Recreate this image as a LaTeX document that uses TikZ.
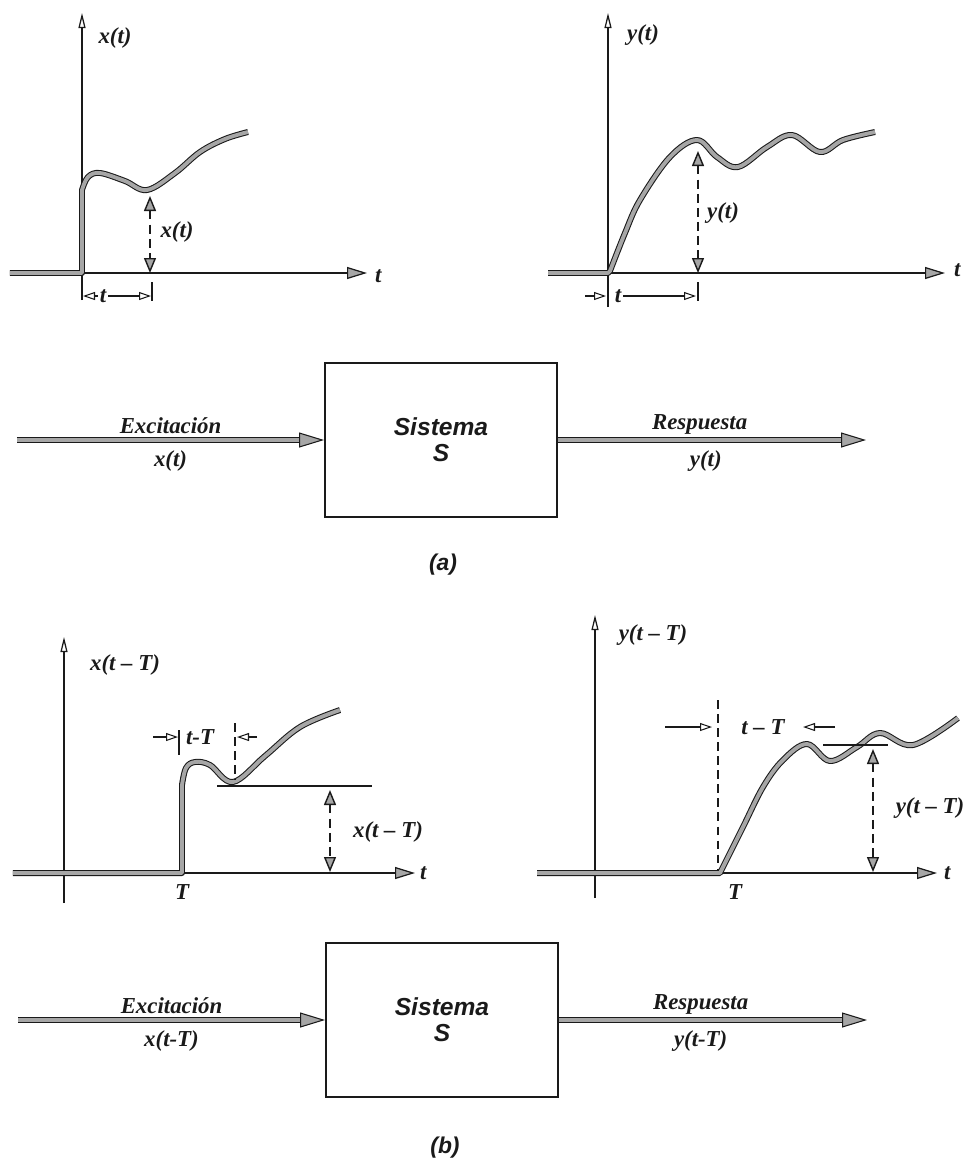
\documentclass[tikz,border=0pt]{standalone}
\usepackage{fontspec}
\setmainfont{Liberation Serif}
\setsansfont{Liberation Sans}
\usepackage{tikz}
\usetikzlibrary{arrows.meta,positioning,calc}
\definecolor{trazo}{HTML}{1A1A1A}
\definecolor{relleno}{HTML}{A6A6A6}
\tikzset{
  every node/.style = {font=\fontsize{13}{15}\selectfont\bfseries\itshape, text=trazo},
  eje/.style        = {draw=trazo, line width=0.7pt,
                       -{Triangle[length=4mm,width=2.4mm,fill=relleno]}},
  ejevert/.style    = {draw=trazo, line width=0.7pt,
                       -{Triangle[length=3mm,width=1.4mm,open]}},
  senal/.style      = {draw=trazo, line width=0.6pt, double=relleno,
                       double distance=2.2pt, line join=round},
  guia/.style       = {draw=trazo, line width=0.8pt, dash pattern=on 5pt off 3pt},
  doblecota/.style  = {guia, {Triangle[length=3mm,width=2.4mm,fill=relleno]}-{Triangle[length=3mm,width=2.4mm,fill=relleno]}},
  cota/.style       = {draw=trazo, line width=0.6pt,
                       -{Triangle[length=2.4mm,width=1.6mm,open]}},
  marca/.style      = {draw=trazo, line width=0.6pt},
  bloque/.style     = {draw=trazo, line width=1.1pt, minimum width=46.4mm,
                       minimum height=30.8mm, align=center, inner sep=0pt,
                       font=\fontsize{14}{16}\selectfont\sffamily\bfseries\itshape},
  flecha/.style     = {senal, -{Triangle[length=5mm,width=3mm,fill=relleno]}},
  rot/.style        = {inner sep=1pt},
  panel/.style      = {font=\fontsize{13}{15}\selectfont\sffamily\bfseries\itshape},
}

\begin{document}
\begin{tikzpicture}

\useasboundingbox (0,0) rectangle (19.58,-23.20);

% =============================================================================
% (a) Excitacion x(t)
% =============================================================================
\coordinate (oa)    at (1.64,-5.46);
\coordinate (xaini) at (0.20,-5.46);
\coordinate (xafin) at (7.34,-5.46);
\coordinate (yaini) at (1.64,-6.00);
\coordinate (yafin) at (1.64,-0.26);
\draw[ejevert] (yaini) -- (yafin);
\draw[eje] (oa) -- (xafin);
\node[rot, anchor=west] (ta) at (7.46,-5.52) {t};
\node[rot] (xa) at (2.30,-0.76) {x(t)};

\draw[senal] (xaini) -- (oa) -- plot[smooth, tension=0.6] coordinates
  {(1.64,-3.80) (1.76,-3.54) (2.00,-3.46) (2.50,-3.62) (2.94,-3.80)
   (3.50,-3.46) (4.00,-3.04) (4.50,-2.78) (4.96,-2.64)};

\coordinate (pa) at (3.00,-3.92);
\coordinate (qa) at (3.00,-5.46);
\draw[doblecota] (pa) -- (qa);
\node[rot] (xamed) at (3.54,-4.64) {x(t)};

\node[rot] (ca) at (2.06,-5.92) {t};
\coordinate (cai) at (1.66,-5.92);
\coordinate (caf) at (3.02,-5.92);
\draw[cota] (ca) -- (cai);
\draw[cota] (ca) -- (caf);
\coordinate (mai) at (3.04,-5.64);
\coordinate (maf) at (3.04,-6.02);
\draw[marca] (mai) -- (maf);

% =============================================================================
% (a) Respuesta y(t)
% =============================================================================
\coordinate (ob)    at (12.16,-5.46);
\coordinate (xbini) at (10.96,-5.46);
\coordinate (xbfin) at (18.90,-5.46);
\coordinate (ybini) at (12.16,-6.14);
\coordinate (ybfin) at (12.16,-0.26);
\draw[ejevert] (ybini) -- (ybfin);
\draw[eje] (ob) -- (xbfin);
\node[rot, anchor=west] (tb) at (19.04,-5.40) {t};
\node[rot] (yb) at (12.86,-0.70) {y(t)};

\draw[senal] (xbini) -- (ob) -- plot[smooth, tension=0.6] coordinates
  {(12.20,-5.42) (12.50,-4.66) (12.80,-4.00) (13.40,-3.14) (13.94,-2.80)
   (14.34,-3.14) (14.76,-3.34) (15.34,-2.94) (15.84,-2.70) (16.40,-3.04)
   (16.86,-2.80) (17.50,-2.64)};

\coordinate (pb) at (13.96,-3.02);
\coordinate (qb) at (13.96,-5.46);
\draw[doblecota] (pb) -- (qb);
\node[rot] (ybmed) at (14.46,-4.26) {y(t)};

\node[rot] (cb) at (12.36,-5.92) {t};
\coordinate (cbi) at (11.70,-5.92);
\coordinate (cbe) at (12.12,-5.92);
\coordinate (cbf) at (13.92,-5.92);
\draw[cota] (cbi) -- (cbe);
\draw[cota] (cb) -- (cbf);
\coordinate (mbi) at (13.96,-5.64);
\coordinate (mbf) at (13.96,-6.02);
\draw[marca] (mbi) -- (mbf);

% =============================================================================
% (a) Diagrama de bloques
% =============================================================================
\node[bloque] (sa) at (8.82,-8.80) {Sistema\\[-1pt]S};
\coordinate (ea) at (0.34,-8.80);
\coordinate (ra) at (17.32,-8.80);
\draw[flecha] (ea) -- node[rot, midway, above=2pt] {Excitaci\'on}
                      node[rot, midway, below=5pt] {x(t)} (sa.west);
\draw[flecha] (sa.east) -- node[rot, pos=0.46, above=2pt] {Respuesta}
                           node[rot, pos=0.48, below=5pt] {y(t)} (ra);
\node[panel] (pna) at (8.86,-11.30) {(a)};

% =============================================================================
% (b) Excitacion retrasada x(t-T)
% =============================================================================
\coordinate (oc)    at (1.28,-17.46);
\coordinate (xcini) at (0.26,-17.46);
\coordinate (xcfin) at (8.30,-17.46);
\coordinate (ycini) at (1.28,-18.06);
\coordinate (ycfin) at (1.28,-12.74);
\coordinate (sc)    at (3.64,-17.46);
\draw[ejevert] (ycini) -- (ycfin);
\draw[eje] (oc) -- (xcfin);
\node[rot, anchor=west] (tc) at (8.36,-17.46) {t};
\node[rot] (Tc) at (3.64,-17.84) {T};
\node[rot] (xc) at (2.50,-13.30) {x(t -- T)};

\draw[senal] (xcini) -- (sc) -- plot[smooth, tension=0.6] coordinates
  {(3.64,-15.70) (3.72,-15.36) (3.90,-15.24) (4.20,-15.30) (4.66,-15.64)
   (5.30,-15.12) (6.00,-14.54) (6.80,-14.20)};

\coordinate (rci) at (4.34,-15.72);
\coordinate (rcf) at (7.44,-15.72);
\draw[marca] (rci) -- (rcf);
\coordinate (pc) at (6.60,-15.80);
\coordinate (qc) at (6.60,-17.44);
\draw[doblecota] (pc) -- (qc);
\node[rot] (xcmed) at (7.76,-16.64) {x(t -- T)};

\node[rot] (cc) at (4.00,-14.74) {t-T};
\coordinate (cci) at (3.06,-14.74);
\coordinate (cce) at (3.56,-14.74);
\draw[cota] (cci) -- (cce);
\coordinate (mci) at (3.58,-14.60);
\coordinate (mcf) at (3.58,-15.10);
\draw[marca] (mci) -- (mcf);
\coordinate (gci) at (4.70,-14.46);
\coordinate (gcf) at (4.70,-15.60);
\draw[guia] (gci) -- (gcf);
\coordinate (cdi) at (5.14,-14.74);
\coordinate (cdf) at (4.74,-14.74);
\draw[cota] (cdi) -- (cdf);

% =============================================================================
% (b) Respuesta retrasada y(t-T)
% =============================================================================
\coordinate (od)    at (11.90,-17.46);
\coordinate (xdini) at (10.74,-17.46);
\coordinate (xdfin) at (18.74,-17.46);
\coordinate (ydini) at (11.90,-17.96);
\coordinate (ydfin) at (11.90,-12.30);
\coordinate (sd)    at (14.40,-17.46);
\draw[ejevert] (ydini) -- (ydfin);
\draw[eje] (od) -- (xdfin);
\node[rot, anchor=west] (td) at (18.84,-17.46) {t};
\node[rot] (Td) at (14.70,-17.84) {T};
\node[rot] (yd) at (13.06,-12.70) {y(t -- T)};

\coordinate (gdi) at (14.36,-14.00);
\coordinate (gdf) at (14.36,-17.46);
\draw[guia] (gdi) -- (gdf);

\draw[senal] (xdini) -- (sd) -- plot[smooth, tension=0.6] coordinates
  {(14.40,-17.46) (14.86,-16.54) (15.26,-15.74) (15.66,-15.20) (16.14,-14.88)
   (16.60,-15.22) (17.14,-14.94) (17.60,-14.66) (18.26,-14.90) (19.16,-14.36)};

\coordinate (rdi) at (16.46,-14.90);
\coordinate (rdf) at (17.76,-14.90);
\draw[marca] (rdi) -- (rdf);
\coordinate (pd) at (17.46,-14.98);
\coordinate (qd) at (17.46,-17.44);
\draw[doblecota] (pd) -- (qd);
\node[rot] (ydmed) at (18.60,-16.16) {y(t -- T)};

\node[rot] (cd) at (15.26,-14.54) {t -- T};
\coordinate (cdai) at (13.30,-14.54);
\coordinate (cdaf) at (14.24,-14.54);
\draw[cota] (cdai) -- (cdaf);
\coordinate (cdbi) at (16.70,-14.54);
\coordinate (cdbf) at (16.06,-14.54);
\draw[cota] (cdbi) -- (cdbf);

% =============================================================================
% (b) Diagrama de bloques
% =============================================================================
\node[bloque] (sb) at (8.84,-20.40) {Sistema\\[-1pt]S};
\coordinate (eb) at (0.36,-20.40);
\coordinate (rb) at (17.34,-20.40);
\draw[flecha] (eb) -- node[rot, midway, above=2pt] {Excitaci\'on}
                      node[rot, midway, below=5pt] {x(t-T)} (sb.west);
\draw[flecha] (sb.east) -- node[rot, pos=0.46, above=2pt] {Respuesta}
                           node[rot, pos=0.46, below=5pt] {y(t-T)} (rb);
\node[panel] (pnb) at (8.90,-22.96) {(b)};

\end{tikzpicture}
\end{document}
